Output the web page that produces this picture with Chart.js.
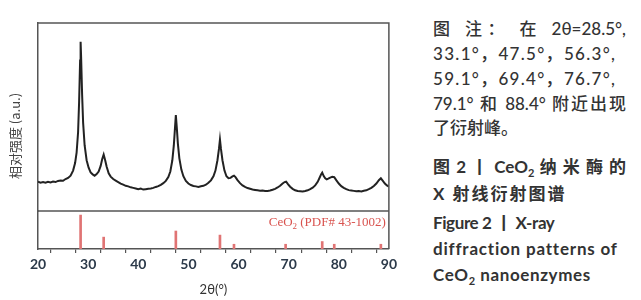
<!DOCTYPE html>
<html>
<head>
<meta charset="utf-8">
<script src="https://cdn.jsdelivr.net/npm/chart.js@4"></script>
<style>
  body { margin: 0; background: #fff; }
  #wrap { position: absolute; left: 0; top: 0; width: 400px; height: 300px; }
  .cap { position: absolute; left: 433px; white-space: nowrap; color: #333;
         font-family: Lato, "Noto Sans CJK SC", sans-serif; font-size: 17px; line-height: 20px; font-weight: 500; }
  .j { width: 193px; text-align: justify; text-align-last: justify; }
  .b { font-weight: bold; }
  .l { letter-spacing: 0.8px; }
  sub { font-size: 11px; line-height: 0; }
</style>
</head>
<body>
<div id="wrap"><canvas id="xrd-chart"></canvas></div>

<div class="cap j" style="top:19px">图 注： 在 2θ=28.5°,</div>
<div class="cap" style="top:44px; letter-spacing:1.3px">33.1°，47.5°，56.3°,</div>
<div class="cap" style="top:69px; letter-spacing:1.3px">59.1°，69.4°，76.7°,</div>
<div class="cap j" style="top:94px">79.1° 和 88.4° 附近出现</div>
<div class="cap" style="top:118px">了衍射峰。</div>
<div class="cap b j" style="top:157px">图 2 丨 CeO<sub>2</sub> 纳 米 酶 的</div>
<div class="cap b" style="top:184px; letter-spacing:2px">X 射线衍射图谱</div>
<div class="cap b" style="top:213px; letter-spacing:-0.4px">Figure 2 丨 X-ray</div>
<div class="cap b l" style="top:239px">diffraction patterns of</div>
<div class="cap b" style="top:265px; letter-spacing:0.6px">CeO<sub>2</sub> nanoenzymes</div>

<script>
// measured pattern, 2theta (deg) and intensity (a.u.)
const twoTheta = [
  20.0, 20.5, 21.0, 21.5, 22.0, 22.5, 23.0, 23.5, 24.0, 24.5, 25.0, 25.5, 26.0, 26.5, 27.0, 27.4, 27.7,
  28.0, 28.2, 28.4, 28.5, 28.6, 28.8, 29.0, 29.3, 29.7, 30.1, 30.5, 30.9, 31.3, 31.7, 32.1, 32.5, 32.8,
  33.1, 33.4, 33.7, 34.1, 34.5, 35.0, 35.5, 36.0, 36.5, 37.0, 37.5, 38.0, 38.5, 39.0, 39.5, 40.0, 40.5,
  41.0, 41.5, 42.0, 42.5, 43.0, 43.5, 44.0, 44.5, 45.0, 45.5, 46.0, 46.4, 46.8, 47.1, 47.3, 47.5, 47.7,
  47.9, 48.2, 48.6, 49.0, 49.5, 50.0, 50.5, 51.0, 51.5, 52.0, 52.5, 53.0, 53.5, 54.0, 54.5, 55.0, 55.4,
  55.8, 56.1, 56.3, 56.5, 56.8, 57.2, 57.6, 58.0, 58.4, 58.8, 59.1, 59.4, 59.8, 60.3, 60.8, 61.3, 61.8,
  62.3, 62.8, 63.3, 63.8, 64.3, 64.8, 65.3, 65.8, 66.3, 66.8, 67.3, 67.8, 68.3, 68.8, 69.2, 69.5, 69.9,
  70.3, 70.8, 71.3, 71.8, 72.3, 72.8, 73.3, 73.8, 74.3, 74.8, 75.3, 75.8, 76.2, 76.5, 76.7, 77.0, 77.3,
  77.6, 77.9, 78.3, 78.7, 79.1, 79.5, 80.0, 80.5, 81.0, 81.5, 82.0, 82.5, 83.0, 83.5, 84.0, 84.5, 85.0,
  85.5, 86.0, 86.5, 87.0, 87.5, 88.0, 88.4, 88.8, 89.2, 89.6, 90.0
];
const intensity = [
  15.6, 15.1, 15.4, 15.0, 15.5, 15.2, 15.7, 15.4, 16.0, 16.2, 16.1, 17.0, 17.6, 18.8, 21.5, 25.5, 31,
  42, 58, 80, 90, 82, 62, 47, 35, 27, 23, 20.5, 19.5, 18.8, 19.6, 21, 24, 27.5,
  30, 27, 23.5, 20, 18.3, 17, 16.2, 15.4, 14.6, 14.0, 13.4, 13.1, 12.6, 12.3, 12.0, 11.6, 11.9,
  11.4, 11.6, 11.8, 12.0, 12.3, 12.8, 13.2, 13.9, 14.8, 16.0, 18.0, 21, 27, 35, 43, 51, 44,
  36, 28, 22, 18.5, 16, 14.6, 13.8, 13.3, 13.1, 12.8, 13.2, 13.4, 14.0, 15.0, 16.3, 18.5, 21.5,
  27, 33, 38, 33, 27, 21.5, 18.5, 17.4, 17.6, 18.4, 18.8, 18.0, 16.4, 14.8, 13.6, 12.8, 12.2,
  11.8, 11.4, 11.2, 11.0, 10.8, 10.9, 10.6, 10.7, 10.9, 11.3, 11.8, 12.5, 13.4, 14.6, 15.4, 15.6, 14.2,
  12.9, 11.8, 11.0, 10.6, 10.5, 10.4, 10.6, 11.0, 11.6, 12.4, 13.6, 15.5, 17.8, 19.6, 20.4, 18.6, 17.4,
  16.8, 17.2, 17.8, 18.2, 18.0, 16.4, 14.6, 13.2, 12.3, 11.6, 11.1, 10.9, 10.7, 10.5, 10.6, 10.4, 10.8,
  11.0, 11.6, 12.3, 13.3, 14.6, 16.4, 17.4, 16.0, 14.6, 13.6, 13.0
];

// CeO2 reference card PDF# 43-1002
const refPositions = [28.5, 33.1, 47.5, 56.3, 59.1, 69.4, 76.7, 79.1, 88.4];
const refIntensities = [100, 35, 53, 41, 14, 14, 22, 14, 14];

const xTicks = [20, 30, 40, 50, 60, 70, 80, 90];

const xrdPoints = twoTheta.map((t, i) => ({ x: t, y: intensity[i] }));
const refPoints = refPositions.map((t, i) => ({ x: t, y: refIntensities[i] }));

const framePlugin = {
  id: 'frame',
  afterDraw(chart) {
    const { ctx, chartArea: a, scales } = chart;
    ctx.save();
    ctx.strokeStyle = '#555';
    ctx.lineWidth = 1.5;
    ctx.beginPath();
    ctx.moveTo(a.left, a.top);
    ctx.lineTo(a.right, a.top);
    ctx.lineTo(a.right, a.bottom);
    ctx.moveTo(a.left, scales.y.bottom);
    ctx.lineTo(a.right, scales.y.bottom);
    ctx.stroke();

    // card label, with subscript 2
    const big = '13px "Liberation Serif", serif';
    const small = '9px "Liberation Serif", serif';
    const base = scales.yRef.top + 15;
    ctx.fillStyle = '#d9534f';
    ctx.textBaseline = 'alphabetic';
    ctx.font = big;
    const w1 = ctx.measureText('CeO').width;
    const w3 = ctx.measureText(' (PDF# 43-1002)').width;
    ctx.font = small;
    const w2 = ctx.measureText('2').width;
    let x = a.right - 3 - (w1 + w2 + w3);
    ctx.font = big;
    ctx.fillText('CeO', x, base);
    ctx.font = small;
    ctx.fillText('2', x + w1, base + 3);
    ctx.font = big;
    ctx.fillText(' (PDF# 43-1002)', x + w1 + w2, base);

    // y title over the whole plot height
    ctx.fillStyle = '#444';
    ctx.font = '13px "Noto Sans CJK SC", sans-serif';
    ctx.translate(15, (a.top + a.bottom) / 2);
    ctx.rotate(-Math.PI / 2);
    ctx.textAlign = 'center';
    ctx.textBaseline = 'middle';
    ctx.fillText('相对强度 (a.u.)', 0, 0);
    ctx.restore();
  }
};

new Chart(document.getElementById('xrd-chart'), {
  type: 'line',
  data: {
    datasets: [{
      type: 'line',
      data: xrdPoints,
      xAxisID: 'x',
      yAxisID: 'y',
      borderColor: '#222',
      borderWidth: 2,
      pointRadius: 0,
      tension: 0
    }, {
      type: 'bar',
      data: refPoints,
      xAxisID: 'x',
      yAxisID: 'yRef',
      backgroundColor: '#e07474',
      barThickness: 2,
      grouped: false
    }]
  },
  options: {
    responsive: true,
    maintainAspectRatio: false,
    animation: false,
    layout: { padding: { left: 38, right: 8, top: 23, bottom: 0 } },
    plugins: {
      legend: { display: false },
      tooltip: { enabled: false }
    },
    scales: {
      x: {
        type: 'linear',
        min: 20,
        max: 90,
        offset: false,
        afterFit: s => { s.height = 51; },
        afterBuildTicks: s => {
          s.ticks = [];
          for (let v = 20; v <= 90; v += 5) s.ticks.push({ value: v });
        },
        ticks: {
          autoSkip: false,
          maxRotation: 0,
          padding: 3,
          color: '#2c3a4a',
          font: { family: 'Lato', size: 14, weight: 'bold' },
          callback: v => (xTicks.includes(v) ? v : '')
        },
        grid: { drawOnChartArea: false, tickLength: 4, color: '#555', lineWidth: 1.2 },
        border: { color: '#555', width: 1.5 },
        title: {
          display: true,
          text: '2θ(°)',
          color: '#333',
          font: { family: 'Lato', size: 13 },
          padding: { top: 2, bottom: 2 }
        }
      },
      yRef: {
        type: 'linear',
        position: 'left',
        stack: 'xrd',
        stackWeight: 38,
        min: 0,
        max: 112,
        ticks: { display: false },
        grid: { display: false, drawTicks: false },
        border: { color: '#555', width: 1.5 }
      },
      y: {
        type: 'linear',
        position: 'left',
        stack: 'xrd',
        stackWeight: 188,
        min: 0,
        max: 100,
        ticks: { display: false },
        grid: { display: false, drawTicks: false },
        border: { color: '#555', width: 1.5 }
      }
    }
  },
  plugins: [framePlugin]
});
</script>
</body>
</html>
